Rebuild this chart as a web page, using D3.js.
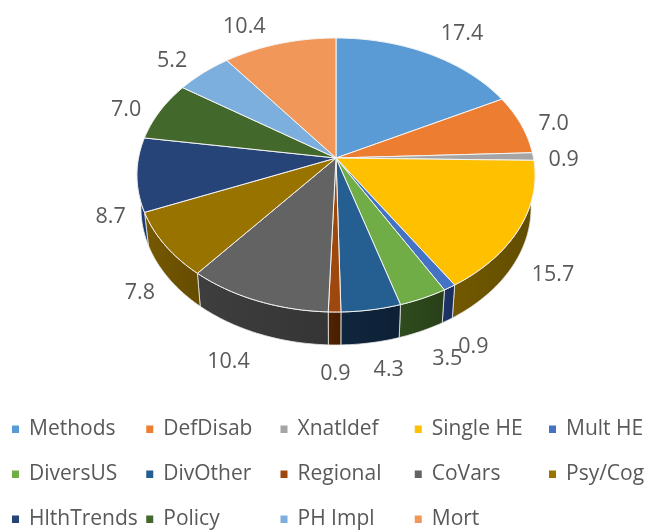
<!DOCTYPE html>
<html>
<head>
<meta charset="utf-8">
<script src="https://cdn.jsdelivr.net/npm/d3@7"></script>
<style>
  html, body { margin: 0; background: #fff; }
  svg { display: block; font-family: "Open Sans", sans-serif; filter: blur(0.4px); }
</style>
</head>
<body>
<div id="pie-chart"></div>
<script>
const categories = ["Methods", "DefDisab", "Xnatldef", "Single HE", "Mult HE", "DiversUS", "DivOther",
  "Regional", "CoVars", "Psy/Cog", "HlthTrends", "Policy", "PH Impl", "Mort"];
const shares = [17.4, 7.0, 0.9, 15.7, 0.9, 3.5, 4.3, 0.9, 10.4, 7.8, 8.7, 7.0, 5.2, 10.4];
const topColors = ["#5b9bd5", "#ed7d31", "#a5a5a5", "#ffc000", "#4472c4", "#70ad47", "#255e91",
  "#9e480e", "#636363", "#997300", "#264478", "#43682b", "#7cafdd", "#f1975a"];
const wallColors = ["#2f5f8c", "#8f4a1c", "#606060", "#665000", "#1a2f5e", "#2a441a", "#0e2238",
  "#4a2000", "#383838", "#6b5000", "#1f3d78", "#2a441a", "#4a7aa8", "#a0623a"];

const width = 648, height = 530;
const cx = 336, cy = 158, depth = 33;
// perspective disk: back of the pie is squashed more than the front
const kx = 197.5, ky = 134.9, persp = 0.124;
const bottomShrink = 0.98;

const svg = d3.select("#pie-chart")
  .append("svg")
  .attr("width", width)
  .attr("height", height)
  .attr("viewBox", [0, 0, width, height]);

function project(angle, r = 1, drop = 0) {
  let u = r * Math.sin(angle), v = r * Math.cos(angle);
  let w = 1 + persp * v;
  return [cx + kx * u / w, cy - ky * v / w + drop];
}

function arcPoints(a0, a1) {
  let n = Math.max(2, Math.ceil((a1 - a0) / 0.02));
  return d3.range(n + 1).map(i => project(a0 + (a1 - a0) * i / n));
}

let slices = d3.pie().sort(null).value(d => d)(shares)
  .map((d, i) => ({ ...d, name: categories[i], top: topColors[i], wall: wallColors[i] }));

let line = d3.line();
let defs = svg.append("defs");

// walls run round the front half, the top surface hides whatever sits behind it
let walls = svg.append("g");
let frontSlices = slices.filter(d => d.endAngle > Math.PI / 2 && d.startAngle < 1.5 * Math.PI);

frontSlices.forEach((d, i) => {
  let a0 = Math.max(d.startAngle, Math.PI / 2), a1 = Math.min(d.endAngle, 1.5 * Math.PI);
  let upper = arcPoints(a0, a1);
  let lower = upper.map(p => [cx + (p[0] - cx) * bottomShrink, p[1] + depth]).reverse();

  let xs = d3.extent(upper, p => p[0]);
  let grad = defs.append("linearGradient")
    .attr("id", `wall-${i}`)
    .attr("gradientUnits", "userSpaceOnUse")
    .attr("x1", xs[0]).attr("x2", xs[1])
    .attr("y1", 0).attr("y2", 0);
  grad.append("stop").attr("offset", 0).attr("stop-color", d3.color(d.wall).brighter(0.3));
  grad.append("stop").attr("offset", 1).attr("stop-color", d3.color(d.wall).darker(0.15));

  walls.append("path")
    .attr("d", line(upper.concat(lower)) + "Z")
    .attr("fill", `url(#wall-${i})`)
    .attr("stroke", "#e8e8e8")
    .attr("stroke-width", 0.8);
});

let tops = svg.append("g");
for (let d of slices) {
  let pts = [[cx, cy]].concat(arcPoints(d.startAngle, d.endAngle));
  tops.append("path")
    .attr("d", line(pts) + "Z")
    .attr("fill", d.top)
    .attr("stroke", "#f4f4f4")
    .attr("stroke-width", 1);
}

// Excel dragged some labels by hand, so each one gets a small nudge off the radial spot
let nudges = [[20, -5], [4, 5], [-1, 4], [2, 2], [3, 3], [8, 2], [11, -1], [1, 0],
  [-14, 2], [5, 0], [6, 7], [-7, 6], [-12, 1], [-27, 0]];

svg.append("g")
  .selectAll("text")
  .data(slices)
  .join("text")
  .attr("x", (d, i) => project((d.startAngle + d.endAngle) / 2, 1.16)[0] + nudges[i][0])
  .attr("y", (d, i) => {
    let mid = (d.startAngle + d.endAngle) / 2;
    return project(mid, 1.16, Math.cos(mid) < 0 ? depth : 0)[1] + nudges[i][1];
  })
  .attr("text-anchor", "middle")
  .attr("dominant-baseline", "middle")
  .attr("font-size", 21.5)
  .attr("fill", "#595959")
  .text(d => d.value.toFixed(1));

// legend: five columns, three rows
let legendX = d3.scalePoint().domain(d3.range(5)).range([12, 549]);
let legendY = d3.scalePoint().domain(d3.range(3)).range([429, 519]);

let legend = svg.append("g")
  .selectAll("g")
  .data(slices)
  .join("g")
  .attr("transform", (d, i) => `translate(${legendX(i % 5)},${legendY(Math.floor(i / 5))})`);

legend.append("rect")
  .attr("y", -3.5)
  .attr("width", 7)
  .attr("height", 7.5)
  .attr("fill", d => d.top);

legend.append("text")
  .attr("x", 17)
  .attr("dominant-baseline", "middle")
  .attr("font-size", 21)
  .attr("fill", "#595959")
  .text(d => d.name);
</script>
</body>
</html>
